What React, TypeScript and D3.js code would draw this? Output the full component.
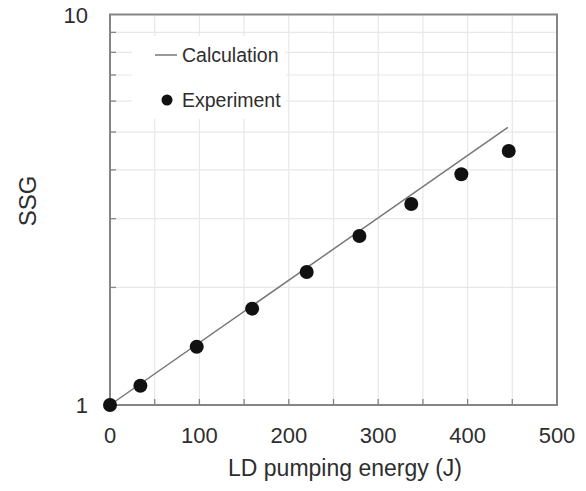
import React from "react";
import * as d3 from "d3";

const expEnergy = [0, 34, 97, 159, 220, 279, 337, 393, 446];
const expSSG = [1.0, 1.12, 1.41, 1.765, 2.19, 2.71, 3.27, 3.9, 4.47];
const calcEnergy = [0, 445];
const calcSSG = [1.0, 5.14];
const xTicks = [0, 100, 200, 300, 400, 500];
const xMinor = [50, 100, 150, 200, 250, 300, 350, 400, 450];
const yMajor = [1, 10];
const yMinor = [2, 3, 4, 5, 6, 7, 8, 9];

const W = 586, H = 491;
const left = 110, right = 557, top = 14.5, bottom = 405;
const FONT = "'Liberation Sans', Arial, sans-serif";

export default function App() {
  const x = d3.scaleLinear().domain([0, 500]).range([left, right]);
  const y = d3.scaleLog().domain([1, 10]).range([bottom, top]);
  const line = d3.line<number>().x((d, i) => x(calcEnergy[i])).y((d) => y(d));
  const grid = "#e8e8e8";
  const axis = "#858585";
  return (
    <svg width={W} height={H} style={{ position: "absolute", left: 0, top: 0, background: "#fff" }}>
      {xMinor.map((v) => (
        <line key={"gx" + v} x1={x(v)} x2={x(v)} y1={top} y2={bottom} stroke={grid} strokeWidth={1.2} />
      ))}
      {yMinor.map((v) => (
        <line key={"gy" + v} x1={left} x2={right} y1={y(v)} y2={y(v)} stroke={grid} strokeWidth={1.2} />
      ))}
      <rect x={132} y={36} width={154} height={83} fill="#fff" />
      {xMinor.map((v) => (
        <line key={"tx" + v} x1={x(v)} x2={x(v)} y1={bottom} y2={bottom - 6} stroke={axis} strokeWidth={1.3} />
      ))}
      {yMinor.map((v) => (
        <line key={"ty" + v} x1={left} x2={left + 6} y1={y(v)} y2={y(v)} stroke={axis} strokeWidth={1.3} />
      ))}
      <rect x={left} y={top} width={right - left} height={bottom - top} fill="none" stroke={axis} strokeWidth={2} />
      <path d={line(calcSSG) || ""} fill="none" stroke="#777" strokeWidth={1.5} />
      {expEnergy.map((e, i) => (
        <circle key={"p" + i} cx={x(e)} cy={y(expSSG[i])} r={7} fill="#111" />
      ))}
      {xTicks.map((v) => (
        <text key={"xl" + v} x={x(v)} y={443} textAnchor="middle" fontFamily={FONT} fontSize={22} fill="#2e2e2e">
          {v}
        </text>
      ))}
      {yMajor.map((v) => (
        <text key={"yl" + v} x={88} y={y(v) + 8} textAnchor="end" fontFamily={FONT} fontSize={22} fill="#2e2e2e">
          {v}
        </text>
      ))}
      <text x={345} y={476} textAnchor="middle" fontFamily={FONT} fontSize={23} fill="#2e2e2e">
        LD pumping energy (J)
      </text>
      <text
        transform={`translate(36, 201) rotate(-90)`}
        textAnchor="middle"
        fontFamily={FONT}
        fontSize={24}
        fill="#2e2e2e"
      >
        SSG
      </text>
      <line x1={155} x2={177} y1={55} y2={55} stroke="#777" strokeWidth={1.5} />
      <text x={182} y={62} fontFamily={FONT} fontSize={19.5} fill="#2e2e2e">Calculation</text>
      <circle cx={167} cy={100} r={5.5} fill="#111" />
      <text x={182} y={107} fontFamily={FONT} fontSize={19.5} fill="#2e2e2e">Experiment</text>
    </svg>
  );
}
